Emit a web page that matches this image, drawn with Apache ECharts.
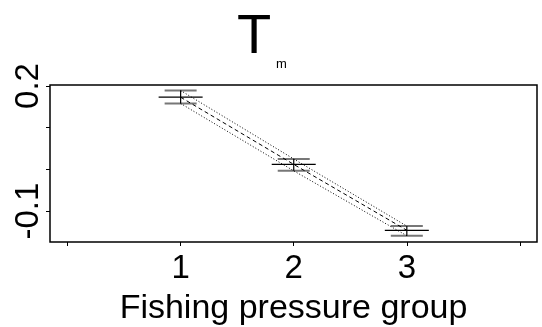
<!DOCTYPE html>
<html>
<head>
<meta charset="utf-8">
<script src="https://cdn.jsdelivr.net/npm/echarts@6/dist/echarts.min.js"></script>
<style>html,body{margin:0;padding:0;background:#fff;}#c{width:542px;height:327px;}</style>
</head>
<body>
<div id="c"></div>
<script>
var groups = [1, 2, 3];
var means = [0.173, 0.012, -0.146];
var lowers = [0.158, -0.0035, -0.159];
var uppers = [0.189, 0.025, -0.136];
var xTicks = [0, 1, 2, 3, 4];
var xTickLabels = [1, 2, 3];
var yTicks = [-0.1, 0, 0.1, 0.2];
var yTickLabels = [-0.1, 0.2];

var FONT = 'Liberation Sans, Arial, Helvetica, sans-serif';
var chart = echarts.init(document.getElementById('c'), null, {renderer: 'canvas'});

var barData = groups.map(function (g, i) { return [g, means[i], lowers[i], uppers[i]]; });
function pairs(vals) { return groups.map(function (g, i) { return [g, vals[i]]; }); }

chart.setOption({
  animation: false,
  backgroundColor: '#fff',
  title: [
    {text: 'T', left: 237, top: 10, padding: 0,
     textStyle: {fontFamily: FONT, fontSize: 56, fontWeight: 'normal', color: '#000'}},
    {text: 'm', left: 276, top: 58, padding: 0,
     textStyle: {fontFamily: FONT, fontSize: 13, fontWeight: 'normal', color: '#000'}}
  ],
  grid: {left: 50, right: 5, top: 85, bottom: 80.5, show: true, borderColor: '#000', borderWidth: 1.5, backgroundColor: 'transparent'},
  xAxis: {
    type: 'value', min: -0.155, max: 4.151,
    splitLine: {show: false},
    axisLine: {show: false, onZero: false},
    axisTick: {show: true, length: 4, customValues: xTicks, lineStyle: {color: '#000'}},
    axisLabel: {show: true, customValues: xTickLabels, margin: 10, fontFamily: FONT, fontSize: 33, color: '#000'},
    name: 'Fishing pressure group', nameLocation: 'middle', nameGap: 50,
    nameTextStyle: {fontFamily: FONT, fontSize: 34, color: '#000'}
  },
  yAxis: {
    type: 'value', min: -0.1741, max: 0.2023,
    splitLine: {show: false},
    axisLine: {show: false, onZero: false},
    axisTick: {show: true, length: 4, customValues: yTicks, lineStyle: {color: '#000'}},
    axisLabel: {show: true, customValues: yTickLabels, rotate: 90, margin: 5, fontFamily: FONT, fontSize: 33, color: '#000',
      formatter: function (v) { return String(Math.round(v * 10) / 10); }}
  },
  series: [
    {type: 'line', data: pairs(means), symbol: 'none', silent: true,
     lineStyle: {color: '#000', width: 1, type: [4, 3]}},
    {type: 'line', data: pairs(uppers), symbol: 'none', silent: true,
     lineStyle: {color: '#000', width: 1, type: [1, 2]}},
    {type: 'line', data: pairs(lowers), symbol: 'none', silent: true,
     lineStyle: {color: '#000', width: 1, type: [1, 2]}},
    {type: 'custom', data: barData, silent: true,
     renderItem: function (params, api) {
       var pm = api.coord([api.value(0), api.value(1)]);
       var pl = api.coord([api.value(0), api.value(2)]);
       var pu = api.coord([api.value(0), api.value(3)]);
       var wL = 22, wS = 16;
       return {type: 'group', children: [
         {type: 'line', shape: {x1: pu[0] - wS, y1: pu[1], x2: pu[0] + wS, y2: pu[1]}, style: {stroke: '#777', lineWidth: 2}},
         {type: 'line', shape: {x1: pl[0] - wS, y1: pl[1], x2: pl[0] + wS, y2: pl[1]}, style: {stroke: '#777', lineWidth: 2}},
         {type: 'line', shape: {x1: pm[0] - wL, y1: pm[1], x2: pm[0] + wL, y2: pm[1]}, style: {stroke: '#000', lineWidth: 1.3}},
         {type: 'line', shape: {x1: pu[0], y1: pu[1], x2: pl[0], y2: pl[1]}, style: {stroke: '#000', lineWidth: 1.2}}
       ]};
     }}
  ]
});
</script>
</body>
</html>
